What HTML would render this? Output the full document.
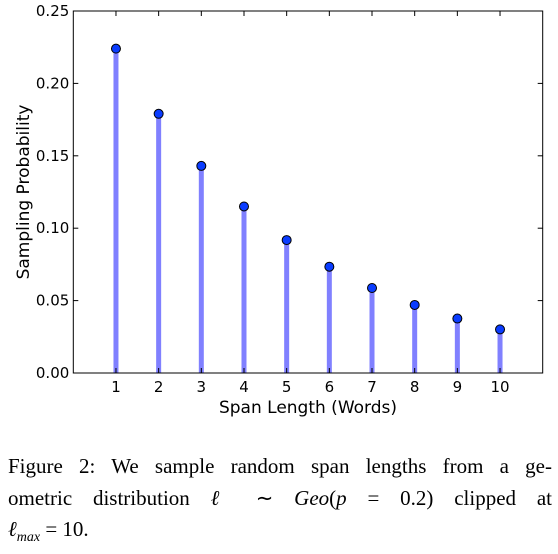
<!DOCTYPE html>
<html><head><meta charset="utf-8"><style>
body{margin:0;background:#fff;width:558px;height:551px;overflow:hidden;position:relative}
svg text{font-family:"DejaVu Sans","Liberation Sans",sans-serif}
.cap{position:absolute;left:8px;top:451px;width:544px;font-family:"Liberation Serif",serif;font-size:21px;line-height:31.5px;color:#000}
.cap div{white-space:nowrap}
.cap .j{text-align:justify;text-align-last:justify;white-space:normal}
</style></head><body>
<svg id="chart" width="558" height="440" style="position:absolute;left:0;top:0"></svg>
<div class="cap">
<div class="j">Figure 2: We sample random span lengths from a ge-</div>
<div class="j">ometric distribution <i>ℓ</i> ∼ <i>Geo</i>(<i>p</i> = 0.2) clipped at</div>
<div><i>ℓ<sub style="font-size:14px">max</sub></i> = 10.</div>
</div>
<script>
const categories=[1,2,3,4,5,6,7,8,9,10];
const probs=[0.224,0.179,0.143,0.115,0.0918,0.0734,0.0587,0.047,0.0376,0.0301];
const yTicks=[0,0.05,0.10,0.15,0.20,0.25];
const yTickLabels=["0.00","0.05","0.10","0.15","0.20","0.25"];
const NS="http://www.w3.org/2000/svg";
const svg=document.getElementById('chart');
const L=73.3,R=542.7,T=11,B=373;
const xs=v=>L+(v-0)/(11-0)*(R-L);
const ys=v=>B-v/0.25*(B-T);
function mk(t,a){const e=document.createElementNS(NS,t);for(const k in a)e.setAttribute(k,a[k]);svg.appendChild(e);return e;}
categories.forEach((c,i)=>{
 const s=mk('line',{x1:xs(c),x2:xs(c),y1:ys(0),y2:ys(probs[i]),stroke:'#8080ff','stroke-width':5});
 
 
});
categories.forEach((c,i)=>{
 const m=mk('circle',{cx:xs(c),cy:ys(probs[i]),r:4.5,fill:'#0a3cff',stroke:'#000','stroke-width':1});
 
 
});
const f=mk('rect',{x:L,y:T,width:R-L,height:B-T,fill:'none',stroke:'#000','stroke-width':1});


yTicks.forEach((v,i)=>{
 const y=ys(v);
 mk('line',{x1:L,x2:L+5,y1:y,y2:y,stroke:'#000'});
 mk('line',{x1:R,x2:R-5,y1:y,y2:y,stroke:'#000'});
 const t=mk('text',{x:L-4,y:y+5,'text-anchor':'end','font-size':15});
 t.textContent=yTickLabels[i];
 
 
});
categories.forEach(c=>{
 const x=xs(c);
 mk('line',{x1:x,x2:x,y1:B,y2:B-5,stroke:'#000'});
 mk('line',{x1:x,x2:x,y1:T,y2:T+5,stroke:'#000'});
 const t=mk('text',{x:x,y:B+19,'text-anchor':'middle','font-size':15});
 t.textContent=c;
 
 
});
const xt=mk('text',{x:(L+R)/2,y:413,'text-anchor':'middle','font-size':17});
xt.textContent='Span Length (Words)';


const yt=mk('text',{x:0,y:0,'text-anchor':'middle','font-size':17,transform:'translate(29,'+((T+B)/2)+') rotate(-90)'});
yt.textContent='Sampling Probability';


</script>
</body></html>
